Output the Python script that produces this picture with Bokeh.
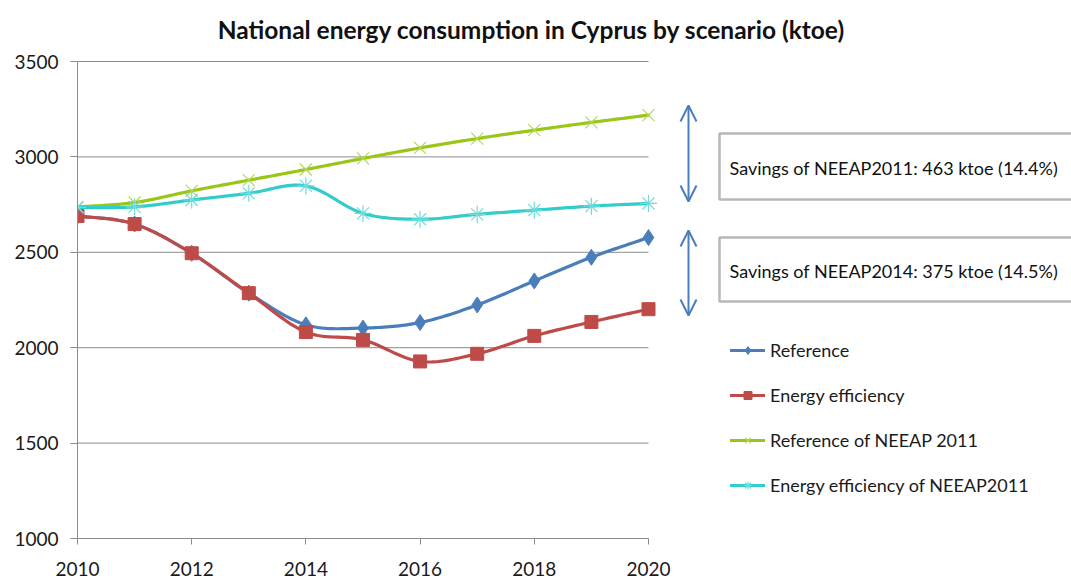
import numpy as np
from bokeh.plotting import figure
from bokeh.models import (Range1d, FixedTicker, Legend, LegendItem, Arrow, OpenHead)
from bokeh.core.properties import value
from bokeh.embed import file_html
from bokeh.resources import INLINE

# ---------------- data ----------------
years = [2010, 2011, 2012, 2013, 2014, 2015, 2016, 2017, 2018, 2019, 2020]
reference = [2690, 2648, 2495, 2286, 2120, 2103, 2132, 2224, 2350, 2474, 2577]
energy_efficiency = [2690, 2648, 2495, 2286, 2082, 2041, 1928, 1968, 2062, 2135, 2202]
reference_neeap2011 = [2738, 2761, 2822, 2878, 2934, 2992, 3047, 3096, 3140, 3181, 3219]
efficiency_neeap2011 = [2735, 2738, 2774, 2809, 2848, 2704, 2673, 2699, 2721, 2742, 2756]

series_names = ["Reference", "Energy efficiency", "Reference of NEEAP 2011",
                "Energy efficiency of NEEAP2011"]
x_ticks = [2010, 2012, 2014, 2016, 2018, 2020]
y_ticks = [1000, 1500, 2000, 2500, 3000, 3500]
title_text = "National energy consumption in Cyprus by scenario (ktoe)"
savings_texts = ["Savings of NEEAP2011: 463 ktoe (14.4%)",
                 "Savings of NEEAP2014: 375 ktoe (14.5%)"]

# ---------------- layout helpers (picture px -> data) ----------------
W, H = 1071, 579
LEFT, AXIS_Y = 77, 538
BOTTOM = H - AXIS_Y
FRAME_W, FRAME_H = W - LEFT, AXIS_Y
PX_PER_YEAR = 571 / 10.0
PX_PER_UNIT = 477 / 2500.0
X_END = 2010 + FRAME_W / PX_PER_YEAR
Y_END = 1000 + FRAME_H / PX_PER_UNIT


def dx(sx):
    return 2010 + (sx - LEFT) / PX_PER_YEAR


def dy(sy):
    return 1000 + (AXIS_Y - sy) / PX_PER_UNIT


def smooth(xs, ys, n=20):
    xs = np.asarray(xs, float)
    ys = np.asarray(ys, float)
    m = len(xs)
    t = np.linspace(0, 1, n)[:, None]
    pts = np.stack([xs, ys], axis=1)
    out = []
    for i in range(m - 1):
        p0, p3 = pts[i], pts[i + 1]
        pm = pts[max(i - 1, 0)]
        p4 = pts[min(i + 2, m - 1)]
        c1 = p0 + (p3 - pm) / 6.0
        c2 = p3 - (p4 - p0) / 6.0
        seg = ((1 - t) ** 3) * p0 + 3 * ((1 - t) ** 2) * t * c1 + 3 * (1 - t) * t ** 2 * c2 + t ** 3 * p3
        out.append(seg if i == 0 else seg[1:])
    out = np.concatenate(out)
    return out[:, 0], out[:, 1]


p = figure(width=W, height=H, x_range=Range1d(2010, X_END), y_range=Range1d(1000, Y_END),
           output_backend="svg", toolbar_location=None,
           min_border_left=LEFT, min_border_right=0, min_border_top=0, min_border_bottom=BOTTOM)
p.outline_line_color = None
p.xgrid.visible = False
p.ygrid.visible = False
p.background_fill_color = "white"

GRID = "#8c8c8c"
# horizontal gridlines limited to the plotting area
p.segment(x0=[2010] * len(y_ticks), x1=[2020] * len(y_ticks), y0=y_ticks, y1=y_ticks,
          line_color=GRID, line_width=1)

# axes
p.xaxis.bounds = (2010, 2020)
p.xaxis.ticker = FixedTicker(ticks=x_ticks)
p.xaxis.minor_tick_line_color = None
p.xaxis.major_tick_in = 0
p.xaxis.major_tick_out = 6
p.xaxis.major_label_standoff = 17
p.xaxis.major_label_text_line_height = 0.7
p.yaxis.bounds = (1000, 3500)
p.yaxis.ticker = FixedTicker(ticks=y_ticks)
p.yaxis.minor_tick_line_color = None
p.yaxis.major_tick_in = 0
p.yaxis.major_tick_out = 7
p.yaxis.major_label_standoff = 12
for ax in (p.xaxis, p.yaxis):
    ax.axis_line_color = GRID
    ax.major_tick_line_color = GRID
    ax.major_label_text_font = "Lato"
    ax.major_label_text_font_size = "19px"
    ax.major_label_text_color = "#1a1a1a"

# series
styles = [
    dict(color="#4a7ebb", marker="diamond", size=16, mfill="#4a7ebb", mline="#4a7ebb", mw=1),
    dict(color="#be4b48", marker="square", size=13, mfill="#be4b48", mline="#be4b48", mw=1),
    dict(color="#99c718", marker="x", size=17, mfill=None, mline="#b3d95a", mw=1.2),
    dict(color="#33cccc", marker="asterisk", size=17, mfill=None, mline="#6fdcdc", mw=1.2),
]
all_series = [reference, energy_efficiency, reference_neeap2011, efficiency_neeap2011]
items = []
for name, vals, st in zip(series_names, all_series, styles):
    sx, sy = smooth(years, vals)
    lr = p.line(sx, sy, line_color=st["color"], line_width=3.2, line_join="round", line_cap="round")
    if st["mfill"] is None:
        sr = p.scatter(years, vals, marker=st["marker"], size=st["size"], fill_color=None,
                       line_color=st["mline"], line_width=st["mw"])
    else:
        sr = p.scatter(years, vals, marker=st["marker"], size=st["size"], fill_color=st["mfill"],
                       line_color=st["mline"], line_width=st["mw"])
    items.append(LegendItem(label=name, renderers=[lr, sr]))

legend = Legend(items=items, location=(653, 42), orientation="vertical",
                glyph_width=35, glyph_height=20, label_height=20, spacing=23,
                label_standoff=5, padding=0, margin=0,
                label_text_font="Lato", label_text_font_size="18px", label_text_color="#1a1a1a",
                border_line_color=None, background_fill_alpha=0)
p.add_layout(legend)

# title
p.text(x=[dx(531)], y=[dy(29)], text=[title_text], text_align="center", text_baseline="middle",
       text_font=value("Lato"), text_font_style="bold", text_font_size="24.5px", text_color="#111111")

# savings boxes
box_tops = [133, 237]
box_bottoms = [199, 301]
p.quad(left=[dx(719)] * 2, right=[dx(1095)] * 2, top=[dy(t) for t in box_tops],
       bottom=[dy(b) for b in box_bottoms], fill_color="white", line_color="#b8b8b8", line_width=2.5)
p.text(x=[dx(729)] * 2, y=[dy((t + b) / 2 + 1) for t, b in zip(box_tops, box_bottoms)],
       text=savings_texts, text_align="left", text_baseline="middle",
       text_font=value("Lato"), text_font_size="18px", text_color="#111111")

# double arrows
for top, bot in [(105, 201), (230, 315)]:
    p.add_layout(Arrow(x_start=dx(688), y_start=dy(top), x_end=dx(688), y_end=dy(bot),
                       line_color="#4a7ebb", line_width=2,
                       start=OpenHead(size=16, line_color="#4a7ebb", line_width=2),
                       end=OpenHead(size=16, line_color="#4a7ebb", line_width=2)))

open("out.html", "w").write(file_html(p, INLINE))
